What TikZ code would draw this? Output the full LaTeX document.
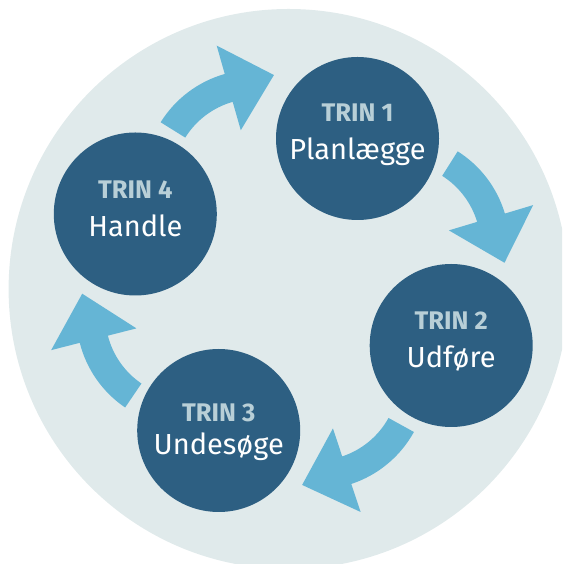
\documentclass[tikz,border=0pt]{standalone}
\usepackage{fontspec}
\setmainfont{Fira Sans}
\usetikzlibrary{positioning}

\definecolor{ringgrey}{HTML}{E0EAEB}
\definecolor{stepblue}{HTML}{2D5F82}
\definecolor{arrowblue}{HTML}{65B5D5}
\definecolor{trintext}{HTML}{B8CFD7}

\begin{document}
\begin{tikzpicture}[x=1pt, y=1pt]
\tikzset{step circle/.style={circle, fill=stepblue, minimum size=163pt, inner sep=0pt},
  trin label/.style={anchor=base, inner sep=0pt, text=trintext, font=\fontsize{25.5}{28}\selectfont\bfseries},
  step name/.style={anchor=base, inner sep=0pt, text=white, font=\fontsize{29}{34}\selectfont},
  cycle arrow/.style={fill=arrowblue}}
  \clip (0,0) rectangle (562,564);
  \node [circle, fill=ringgrey, minimum size=560pt, inner sep=0pt] (ring) at (288.6,275) {};

  % block arrows: centre / tail angle / head angle
  \foreach \cx/\cy/\a/\b in {255.3/382.8/148.1/105.9, 398.1/318.4/57.7/16.7,
                             316.3/185.9/-28.9/-71.7, 187.8/248.7/-124.2/-165.7} {
    \begin{scope}[shift={(\cx,\cy)}, rotate=\b]
      \pgfmathsetmacro\sweep{\a-\b}
      \fill [cycle arrow] (\sweep:111.5) arc [start angle=\sweep, end angle=0, radius=111.5]
        -- (141,0) -- (97,-47) -- (53,0) -- (82.5,0)
        arc [start angle=0, end angle=\sweep, radius=82.5] -- cycle;
    \end{scope}
  }

  % the four steps
  \foreach \i/\x/\y/\up/\dn/\name in {1/357.5/425.5/17/21.5/Planlægge, 2/451.2/218.5/16/22/Udføre,
                                      3/218.7/133.5/9/24/Undesøge, 4/135.3/350/15/23/Handle} {
    \node [step circle] (T\i) at (\x,\y) {};
    \node [trin label] (L\i) at ([yshift=\up pt]T\i.center) {TRIN \i};
    \node [step name] (N\i) at ([yshift=-\dn pt]T\i.center) {\name};
  }
\end{tikzpicture}
\end{document}
